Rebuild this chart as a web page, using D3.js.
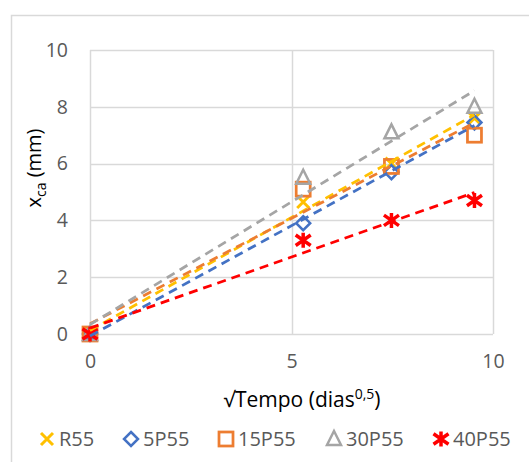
<!DOCTYPE html>
<html>
<head>
<meta charset="utf-8">
<script src="https://cdn.jsdelivr.net/npm/d3@7"></script>
<style>
  html, body { margin: 0; padding: 0; background: #fff; }
  svg { display: block; font-family: "Open Sans", "Noto Sans", sans-serif; }
</style>
</head>
<body>
<svg id="chart" width="529" height="462"></svg>
<script>
// √t (days^0.5) at 0, 28, 56 and 91 days
const sqrtDays = [0, 5.29, 7.48, 9.54];

const seriesNames = ["R55", "5P55", "15P55", "30P55", "40P55"];
const seriesColors = ["#FFC000", "#4472C4", "#ED7D31", "#A5A5A5", "#FF0000"];
const seriesMarkers = ["x", "diamond", "square", "triangle", "star"];

// Carbonation depth x_ca (mm)
const valuesR55   = [0, 4.65, 6.0, 7.6];
const values5P55  = [0, 3.9, 5.7, 7.45];
const values15P55 = [0, 5.1, 5.9, 7.0];
const values30P55 = [0, 5.5, 7.1, 8.0];
const values40P55 = [0, 3.3, 4.0, 4.7];

const xTicks = [0, 5, 10];
const yTicks = [0, 2, 4, 6, 8, 10];

const seriesValues = [valuesR55, values5P55, values15P55, values30P55, values40P55];

const svg = d3.select("#chart");

// chart frame
svg.append("rect")
  .attr("x", 11.5).attr("y", 15.5)
  .attr("width", 700).attr("height", 700)
  .attr("fill", "none").attr("stroke", "#d9d9d9").attr("stroke-width", 1.5);

const x = d3.scaleLinear().domain([0, 10]).range([90, 493]);
const y = d3.scaleLinear().domain([0, 10]).range([334, 50]);

// gridlines
const grid = svg.append("g");
grid.selectAll("line.h").data(yTicks).join("line")
  .attr("x1", x(0)).attr("x2", x(10))
  .attr("y1", d => Math.round(y(d)) + 0.5).attr("y2", d => Math.round(y(d)) + 0.5)
  .attr("stroke", "#d9d9d9").attr("stroke-width", 1.5);
grid.selectAll("line.v").data(xTicks).join("line")
  .attr("y1", y(0)).attr("y2", y(10))
  .attr("x1", d => Math.round(x(d)) + 0.5).attr("x2", d => Math.round(x(d)) + 0.5)
  .attr("stroke", "#d9d9d9").attr("stroke-width", 1.5);

// axes (labels only, no domain lines)
const yAxis = d3.axisLeft(y).tickValues(yTicks).tickSize(0).tickPadding(22);
const gy = svg.append("g").attr("transform", `translate(${x(0)},0)`).call(yAxis);
const xAxis = d3.axisBottom(x).tickValues(xTicks).tickSize(0).tickPadding(20);
const gx = svg.append("g").attr("transform", `translate(0,${y(0)})`).call(xAxis);
[gx, gy].forEach(g => {
  g.select(".domain").remove();
  g.selectAll("text")
    .attr("fill", "#595959")
    .style("font-size", "19.5px")
    .style("font-family", "'Open Sans', 'Noto Sans', sans-serif");
});

// axis titles
const xt = svg.append("text")
  .attr("x", 302).attr("y", 407)
  .attr("text-anchor", "middle")
  .attr("fill", "#000")
  .style("font-size", "21px");
xt.append("tspan").text("√Tempo (dias");
xt.append("tspan").text("0,5").attr("dy", -8).style("font-size", "14px");
xt.append("tspan").text(")").attr("dy", 8);

const yt = svg.append("text")
  .attr("transform", "translate(41,168) rotate(-90)")
  .attr("text-anchor", "middle")
  .attr("fill", "#000")
  .style("font-size", "20px");
yt.append("tspan").text("x");
yt.append("tspan").text("ca").attr("dy", 5).style("font-size", "14px");
yt.append("tspan").text(" (mm)").attr("dy", -5);

// marker shapes
function drawMarker(g, type, color, cx, cy) {
  const s = 7;
  const common = sel => sel.attr("fill", "none").attr("stroke", color);
  if (type === "x") {
    const r = 6;
    common(g.append("path"))
      .attr("d", `M${cx - r},${cy - r}L${cx + r},${cy + r}M${cx - r},${cy + r}L${cx + r},${cy - r}`)
      .attr("stroke-width", 3);
  } else if (type === "diamond") {
    common(g.append("path"))
      .attr("d", `M${cx},${cy - s}L${cx + s},${cy}L${cx},${cy + s}L${cx - s},${cy}Z`)
      .attr("stroke-width", 2.5);
  } else if (type === "square") {
    common(g.append("rect"))
      .attr("x", cx - s).attr("y", cy - s).attr("width", 2 * s).attr("height", 2 * s)
      .attr("stroke-width", 2.75);
  } else if (type === "triangle") {
    common(g.append("path"))
      .attr("d", `M${cx},${cy - s - 1}L${cx + s},${cy + s - 1}L${cx - s},${cy + s - 1}Z`)
      .attr("stroke-width", 2.5);
  } else if (type === "star") {
    const r = 7.5;
    common(g.append("path"))
      .attr("d", `M${cx - r},${cy - r * 0.7}L${cx + r},${cy + r * 0.7}M${cx - r},${cy + r * 0.7}L${cx + r},${cy - r * 0.7}M${cx},${cy - r}L${cx},${cy + r}`)
      .attr("stroke-width", 3.5);
  }
}

// least-squares linear trend
function linFit(xs, ys) {
  const n = xs.length;
  const mx = d3.mean(xs), my = d3.mean(ys);
  let sxy = 0, sxx = 0;
  for (let i = 0; i < n; i++) {
    sxy += (xs[i] - mx) * (ys[i] - my);
    sxx += (xs[i] - mx) * (xs[i] - mx);
  }
  const b = sxy / sxx;
  return { a: my - b * mx, b };
}

const series = seriesNames.map((name, i) => ({
  name, color: seriesColors[i], marker: seriesMarkers[i],
  points: sqrtDays.map((t, j) => ({ t, v: seriesValues[i][j] }))
}));

// data markers
const markerLayer = svg.append("g");
series.forEach(s => {
  const g = markerLayer.append("g");
  s.points.forEach(p => drawMarker(g, s.marker, s.color, x(p.t), y(p.v)));
});

// dashed linear trendlines
const lineGen = d3.line().x(d => x(d[0])).y(d => y(d[1]));
const trendLayer = svg.append("g");
series.forEach(s => {
  const f = linFit(sqrtDays, s.points.map(p => p.v));
  const t0 = d3.min(sqrtDays), t1 = d3.max(sqrtDays);
  trendLayer.append("path")
    .attr("d", lineGen([[t0, f.a + f.b * t0], [t1, f.a + f.b * t1]]))
    .attr("fill", "none")
    .attr("stroke", s.color)
    .attr("stroke-width", 2.75)
    .attr("stroke-dasharray", "9,6");
});

// legend
const legendX = [47, 131, 226, 334, 441];
const legend = svg.append("g");
series.forEach((s, i) => {
  const g = legend.append("g");
  drawMarker(g, s.marker, s.color, legendX[i], 439);
  g.append("text")
    .attr("x", legendX[i] + 12).attr("y", 446)
    .attr("fill", "#595959")
    .style("font-size", "20px")
    .text(s.name);
});
</script>
</body>
</html>
